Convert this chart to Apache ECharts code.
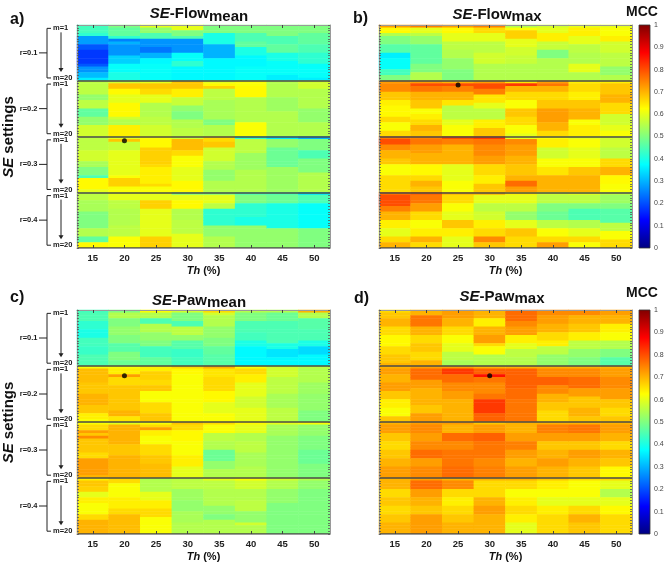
<!DOCTYPE html>
<html>
<head>
<meta charset="utf-8">
<script src="https://cdn.jsdelivr.net/npm/echarts@6/dist/echarts.min.js"></script>
<style>
html, body { margin: 0; padding: 0; background: #fff; }
#chart { width: 669px; height: 566px; }
</style>
</head>
<body>
<div id="chart"></div>
<script>
// Th (%) columns
const thresholds = ['15', '20', '25', '30', '35', '40', '45', '50'];
// SE settings: 4 values of r, each with m = 1..20
const rLevels = ['r=0.1', 'r=0.2', 'r=0.3', 'r=0.4'];
const mPerR = 20;
const colorTicks = ['0', '0.1', '0.2', '0.3', '0.4', '0.5', '0.6', '0.7', '0.8', '0.9', '1'];

// MCC x100, one array per Th column, 80 rows (r=0.1 m=1..20, r=0.2 m=1..20, ...)
const flowMeanMcc = [
    [44,44,44,42,28,28,28,21,21,18,18,18,18,18,21,27,27,31,31,36, 56,56,56,56,56,52,52,56,56,56,47,47,47,52,52,52,58,58,58,58, 56,56,56,56,56,58,58,58,58,54,54,50,50,50,45,63,63,63,63,60, 56,56,56,54,54,54,54,50,50,50,50,50,50,55,55,55,47,47,63,63],
    [50,47,47,47,42,25,30,27,27,27,27,33,33,33,38,38,38,40,40,40, 58,68,68,63,63,60,60,60,63,63,63,63,63,58,55,55,64,64,64,64, 60,68,57,57,57,60,60,60,60,60,60,60,60,60,62,67,67,67,62,62, 60,60,60,56,56,56,55,55,55,55,55,55,56,56,56,56,62,62,62,62],
    [60,52,52,45,45,27,27,27,24,24,30,30,37,37,38,38,38,38,38,38, 60,68,68,66,66,60,60,60,55,55,55,55,55,56,56,56,58,58,58,58, 62,63,63,63,67,67,67,67,67,67,66,64,64,64,64,64,64,66,62,62, 60,60,60,67,67,67,60,60,60,60,60,60,60,60,60,60,67,67,67,67],
    [60,60,50,50,45,27,27,27,27,27,38,38,38,42,42,37,37,37,37,37, 68,68,68,64,64,64,57,57,57,52,52,50,50,50,55,55,55,56,56,56, 58,69,69,69,69,66,66,62,62,62,62,60,60,60,60,60,63,63,63,63, 50,60,60,63,63,63,55,55,55,55,56,56,56,56,56,60,60,60,60,60],
    [50,50,50,40,40,40,40,30,30,30,30,30,37,37,37,37,37,37,37,37, 60,63,67,56,56,56,56,54,54,54,54,54,54,54,50,50,55,55,55,55, 66,66,68,68,58,58,58,58,58,55,55,55,52,52,52,52,55,55,55,55, 50,60,60,60,56,56,42,42,42,42,42,42,52,52,52,52,55,55,55,55],
    [50,50,50,45,45,45,47,47,40,40,40,37,37,37,37,38,38,38,38,38, 62,62,63,63,63,63,55,55,55,55,55,55,55,55,55,62,62,62,62,62, 42,56,56,56,56,56,53,53,53,53,53,53,55,55,55,55,55,55,55,55, 45,50,50,50,42,42,42,42,42,40,40,40,52,52,52,52,52,52,52,52],
    [50,50,50,50,45,45,45,47,47,47,40,40,40,38,38,38,38,38,36,36, 55,55,55,55,55,55,53,53,53,53,53,55,55,55,55,55,55,55,55,55, 35,52,52,52,48,48,48,48,48,48,48,53,53,53,53,53,53,53,53,53, 45,48,48,48,40,40,40,40,40,40,40,40,40,52,52,52,52,52,52,52],
    [50,50,50,47,47,47,47,45,45,45,42,42,42,42,38,38,38,38,38,36, 58,58,58,55,55,55,55,55,55,55,52,52,52,52,52,55,55,55,55,55, 30,50,50,50,50,45,45,45,50,50,50,50,50,55,55,55,55,55,55,55, 35,45,45,45,38,38,38,38,38,38,38,38,38,50,50,50,50,50,50,50]
];

const flowMaxMcc = [
    [72,63,63,55,50,50,50,46,46,46,36,36,38,38,38,38,44,44,50,50, 72,74,74,74,68,68,68,64,64,63,63,63,63,66,66,62,62,62,66,66, 76,80,80,74,74,70,70,70,68,68,62,62,62,62,66,66,66,66,66,66, 76,80,80,80,80,75,75,70,70,70,64,64,64,60,60,60,66,66,70,70],
    [75,60,60,56,52,52,52,47,47,47,47,47,47,47,50,50,50,55,55,55, 72,80,76,76,70,70,70,68,68,68,62,62,64,64,66,66,70,70,68,68, 75,76,76,72,72,72,70,70,70,70,63,63,63,63,66,66,70,70,68,68, 78,76,76,76,72,72,72,66,66,66,62,62,62,64,64,64,70,70,66,66],
    [72,63,63,60,60,60,56,56,56,55,55,55,52,52,52,52,50,50,50,50, 70,80,75,75,70,70,70,65,65,56,56,56,56,56,60,60,62,62,62,62, 80,75,75,70,70,70,70,70,70,70,60,60,60,60,60,60,62,62,62,62, 70,66,66,66,62,62,62,60,60,60,68,68,68,64,64,64,60,60,60,60],
    [75,66,66,60,60,60,56,56,56,56,58,58,58,58,55,55,55,55,55,55, 72,80,80,75,75,65,65,65,60,60,56,56,56,56,64,64,64,68,68,68, 82,76,76,74,74,74,74,72,72,72,66,66,66,66,64,64,64,68,68,68, 70,60,60,60,56,56,56,58,58,58,64,64,64,66,66,66,74,74,68,68],
    [55,62,67,67,67,60,60,60,58,58,58,57,57,57,55,55,55,55,55,55, 65,82,70,70,66,66,66,62,62,62,68,68,68,66,66,66,62,62,62,60, 60,74,74,72,72,72,72,70,70,70,68,68,68,68,70,70,77,77,72,72, 64,60,60,60,56,56,56,52,52,52,60,60,60,68,68,68,66,66,66,66],
    [58,60,60,64,64,64,57,57,57,50,50,50,55,55,55,55,55,55,55,55, 72,76,70,70,66,66,66,68,68,68,72,72,72,72,72,70,70,70,66,66, 62,64,64,64,58,58,58,58,62,62,62,65,65,65,70,70,70,70,70,70, 58,56,56,56,50,50,50,48,48,48,56,56,56,62,62,62,66,66,72,72],
    [60,64,64,64,60,60,60,56,56,56,55,55,55,55,60,60,60,55,55,55, 64,66,66,66,64,64,64,68,68,68,70,70,70,70,62,62,64,64,64,64, 60,62,62,62,60,60,60,60,62,62,62,68,68,68,70,70,70,70,70,70, 60,56,56,56,50,50,45,45,45,45,55,55,55,60,60,60,66,66,62,62],
    [60,62,62,62,64,64,58,58,58,58,56,56,56,56,56,52,52,52,55,55, 64,68,68,68,68,70,70,70,66,66,66,66,58,58,58,58,60,60,62,62, 58,58,58,58,56,56,56,56,66,66,66,70,70,70,63,63,63,62,62,62, 56,53,53,53,50,50,46,46,46,46,46,56,56,56,62,62,62,66,66,66]
];

const pawMeanMcc = [
    [44,45,45,45,42,42,42,40,40,40,44,44,44,43,43,43,45,45,45,45, 62,69,69,69,69,69,68,68,68,68,70,70,70,70,68,68,68,64,64,62, 62,66,66,72,68,74,68,68,68,68,68,66,66,72,72,72,72,72,72,70, 64,68,68,67,67,60,60,64,64,62,62,62,62,66,66,70,70,70,70,70],
    [50,55,55,50,50,50,52,52,52,50,50,50,46,46,46,50,50,50,48,48, 62,64,64,72,66,66,66,68,68,68,68,68,68,68,68,68,70,70,65,65, 60,70,70,70,70,70,70,70,68,68,68,68,70,70,70,70,70,70,70,70, 66,66,62,62,62,62,62,64,64,64,64,66,66,69,69,69,69,69,69,69],
    [62,55,55,45,45,55,55,55,52,52,52,50,50,44,44,44,44,47,47,47, 64,64,67,67,67,66,66,68,68,62,62,62,62,66,66,66,66,68,68,68, 62,66,72,64,64,62,62,62,66,66,66,66,68,68,68,69,69,69,69,69, 55,55,55,55,55,60,60,60,64,64,64,66,66,66,62,62,62,62,62,62],
    [58,50,50,50,45,45,56,56,56,52,52,46,46,46,43,43,43,44,44,44, 66,63,63,62,62,62,62,62,62,62,62,62,62,62,62,62,62,62,62,62, 68,66,66,63,63,63,63,62,62,62,62,62,64,64,64,64,60,60,60,60, 56,56,56,56,53,53,53,53,52,52,52,52,54,54,54,54,55,55,55,55],
    [66,58,55,55,55,55,52,52,52,52,50,50,50,47,47,47,46,46,46,46, 70,65,65,65,66,66,66,66,66,63,63,63,63,60,60,60,60,62,62,62, 66,62,62,62,56,56,56,55,55,55,48,48,48,48,52,52,52,55,55,55, 60,56,56,56,55,55,55,55,55,55,52,52,52,50,50,55,55,55,55,55],
    [55,50,50,50,45,45,45,45,44,44,44,40,40,37,37,37,37,37,37,37, 62,66,66,64,64,64,60,60,60,60,60,58,58,58,58,60,60,60,60,60, 63,60,60,60,55,55,55,56,56,56,56,54,54,54,54,54,55,55,55,55, 62,58,58,58,55,55,55,55,56,56,56,56,52,52,52,52,58,55,55,55],
    [55,48,48,48,45,45,45,45,45,45,45,45,40,40,35,35,35,37,37,37, 58,58,58,58,56,56,56,56,56,56,54,54,54,54,54,56,56,56,56,56, 60,54,54,54,54,52,52,52,52,52,52,52,52,52,52,52,52,52,52,52, 58,55,55,55,52,52,52,52,52,50,50,50,50,50,50,50,50,50,50,50],
    [70,55,55,46,46,46,46,45,45,45,45,40,40,34,34,34,37,37,37,37, 56,55,55,55,55,55,53,53,53,53,52,52,52,52,52,52,50,50,50,50, 62,52,52,52,52,50,50,50,50,50,48,48,48,48,48,50,50,50,50,50, 55,52,52,52,50,50,50,50,50,50,50,50,50,50,50,50,50,50,50,50]
];

const pawMaxMcc = [
    [66,68,68,70,70,70,66,66,66,63,63,63,63,66,66,66,68,68,68,70, 70,72,72,70,70,70,72,72,72,68,68,68,64,64,64,62,62,62,68,68, 70,72,72,72,68,68,68,66,66,66,68,68,68,70,70,70,72,72,72,72, 70,70,70,70,66,66,66,68,68,68,66,66,66,68,68,68,70,70,70,70],
    [70,70,76,76,76,76,70,70,70,66,66,66,68,68,68,66,66,66,70,70, 72,77,77,77,77,72,72,72,70,70,70,70,70,70,68,68,68,72,72,72, 72,74,74,74,72,72,72,74,74,74,77,77,77,72,72,72,74,74,74,74, 72,77,77,77,72,72,72,70,70,70,68,68,68,72,72,72,72,72,72,72],
    [72,72,72,70,70,70,66,66,66,62,62,62,60,60,60,56,56,56,54,54, 72,82,82,77,77,77,74,74,74,72,72,72,70,70,70,70,70,70,70,70, 72,70,70,70,77,77,77,74,74,74,76,76,76,76,76,76,77,77,77,77, 70,74,74,74,66,66,66,64,64,64,66,66,66,68,68,68,70,70,70,70],
    [70,70,70,64,64,64,70,70,70,72,72,72,66,62,62,62,55,55,55,55, 70,78,78,86,76,76,74,74,74,74,76,76,82,82,82,82,82,78,78,78, 68,72,72,72,78,78,78,76,76,76,76,76,76,74,74,74,75,75,75,75, 70,66,66,66,66,66,66,70,70,70,72,72,72,70,70,70,70,70,70,70],
    [77,77,77,77,74,74,72,72,72,64,64,64,60,60,56,56,56,55,55,55, 70,78,78,78,78,78,78,78,77,77,77,77,76,76,76,76,76,76,76,76, 70,70,70,70,72,72,72,75,75,75,72,72,72,70,70,70,72,72,72,72, 70,66,66,66,62,62,62,64,64,64,66,66,66,64,64,64,60,60,60,60],
    [74,74,72,72,72,70,70,70,66,66,66,64,64,56,56,56,52,52,52,52, 70,74,74,74,78,78,78,74,74,74,70,70,70,68,68,68,66,66,66,66, 70,75,75,75,72,72,72,68,68,68,70,70,70,72,72,72,70,70,70,70, 68,64,64,64,62,62,62,60,60,60,64,64,64,66,66,66,66,66,66,66],
    [74,74,70,70,70,68,68,68,64,64,64,56,56,56,52,52,52,50,50,50, 70,74,74,74,77,77,77,77,72,72,72,68,68,68,68,70,70,70,68,68, 70,76,76,76,72,72,72,68,68,68,72,72,72,70,70,70,68,68,68,68, 66,62,62,62,62,62,62,60,60,60,66,66,66,70,70,70,68,68,68,68],
    [72,72,70,70,70,64,64,64,62,62,62,55,55,55,50,50,50,46,46,46, 70,72,72,72,74,74,74,74,72,72,72,72,68,68,68,66,66,66,68,68, 70,72,72,72,70,70,70,66,66,66,70,70,70,68,68,68,63,63,63,63, 66,60,60,60,55,55,55,60,60,60,63,63,63,66,66,66,66,66,66,66]
];

// best cell of each panel (black dot): Th column and SE-setting row
const bestTh = ['20', '25', '20', '30'];
const bestRow = [41, 21, 23, 23];

const FONT = '"Liberation Sans", Arial, sans-serif';
const jet = ['#000080', '#0000ff', '#0080ff', '#00ffff', '#80ff80', '#ffff00', '#ff8000', '#ff0000', '#800000'];

const rowNames = [];
rLevels.forEach(r => {
    for (let m = 1; m <= mPerR; m++) rowNames.push(r + ' m=' + m);
});

const PW = 253;
const panels = [
    { letter: 'a)', name: '-Flow', sub: 'mean', mcc: flowMeanMcc, left: 77, top: 25, height: 223, titleX: 199, titleY: 15.5, letterX: 10, letterY: 19.5, yLabels: true },
    { letter: 'b)', name: '-Flow', sub: 'max', mcc: flowMaxMcc, left: 379, top: 25, height: 223, titleX: 497, titleY: 15.8, letterX: 353, letterY: 19, yLabels: false },
    { letter: 'c)', name: '-Paw', sub: 'mean', mcc: pawMeanMcc, left: 77, top: 310, height: 224, titleX: 199, titleY: 302, letterX: 10, letterY: 298, yLabels: true },
    { letter: 'd)', name: '-Paw', sub: 'max', mcc: pawMaxMcc, left: 379, top: 310, height: 224, titleX: 502, titleY: 298, letterX: 354, letterY: 299, yLabels: false }
];
const colorBars = [
    { left: 639, top: 25, height: 223, labelY: 12.5 },
    { left: 639, top: 310, height: 224, labelY: 293.3 }
];

const frame = { show: true, lineStyle: { color: '#9a9a9a', width: 1 } };
const grids = [];
const xAxes = [];
const yAxes = [];
const series = [];
const graphics = [];

panels.forEach((p, i) => {
    grids.push({ left: p.left, top: p.top, width: PW, height: p.height });

    const xTick = { show: true, inside: true, alignWithLabel: true, length: 3, lineStyle: { color: '#444' } };
    xAxes.push({
        gridIndex: i, type: 'category', data: thresholds, position: 'bottom', z: 4,
        axisLine: frame, axisTick: xTick,
        axisLabel: { fontFamily: FONT, fontWeight: 'bold', fontSize: 9.5, color: '#222', margin: 5 },
        name: '{i|Th}{b| (%)}', nameLocation: 'middle', nameGap: 17,
        nameTextStyle: {
            rich: {
                i: { fontFamily: FONT, fontWeight: 'bold', fontStyle: 'italic', fontSize: 11, color: '#111' },
                b: { fontFamily: FONT, fontWeight: 'bold', fontSize: 11, color: '#111' }
            }
        }
    });
    xAxes.push({
        gridIndex: i, type: 'category', data: thresholds, position: 'top', z: 4,
        axisLine: frame, axisTick: xTick, axisLabel: { show: false }
    });

    const yTick = { show: true, inside: true, interval: 0, length: 2, lineStyle: { color: '#555', width: 0.8 } };
    yAxes.push({
        gridIndex: i, type: 'category', data: rowNames, inverse: true, position: 'left', z: 4,
        axisLine: frame, axisTick: yTick, axisLabel: { show: false }
    });
    yAxes.push({
        gridIndex: i, type: 'category', data: rowNames, inverse: true, position: 'right', z: 4,
        axisLine: frame, axisTick: yTick, axisLabel: { show: false },
        splitLine: {
            show: true,
            interval: idx => idx > 0 && idx % mPerR === 0,
            lineStyle: { color: '#4a4a4a', width: 1.5 }
        }
    });

    const cells = [];
    p.mcc.forEach((col, c) => {
        col.forEach((v, r) => cells.push([c, r, v / 100]));
    });
    series.push({
        type: 'heatmap', xAxisIndex: 2 * i, yAxisIndex: 2 * i,
        data: cells, progressive: 0, emphasis: { disabled: true }
    });

    // title with subscript
    graphics.push({
        type: 'text', x: p.titleX, y: p.titleY,
        style: {
            text: '{i|SE}{b|' + p.name + '}{s|' + p.sub + '}',
            align: 'center', textAlign: 'center', verticalAlign: 'middle', textVerticalAlign: 'middle',
            rich: {
                i: { fontFamily: FONT, fontSize: 15, fontWeight: 'bold', fontStyle: 'italic', fill: '#111', lineHeight: 15, verticalAlign: 'top' },
                b: { fontFamily: FONT, fontSize: 15, fontWeight: 'bold', fill: '#111', lineHeight: 15, verticalAlign: 'top' },
                s: { fontFamily: FONT, fontSize: 15, fontWeight: 'bold', fill: '#111', lineHeight: 17.5, verticalAlign: 'bottom' }
            }
        }
    });
    graphics.push({
        type: 'text', x: p.letterX, y: p.letterY,
        style: {
            text: p.letter, fontFamily: FONT, fontSize: 16, fontWeight: 'bold', fill: '#111',
            verticalAlign: 'middle', textVerticalAlign: 'middle'
        }
    });

    if (p.yLabels) {
        const rowH = p.height / rowNames.length;
        graphics.push({
            type: 'text', x: 9, y: p.top + p.height / 2 + 0.5, rotation: Math.PI / 2,
            style: {
                text: '{i|SE}{b| settings}',
                align: 'center', textAlign: 'center', verticalAlign: 'middle', textVerticalAlign: 'middle',
                rich: {
                    i: { fontFamily: FONT, fontSize: 15, fontWeight: 'bold', fontStyle: 'italic', fill: '#111' },
                    b: { fontFamily: FONT, fontSize: 15, fontWeight: 'bold', fill: '#111' }
                }
            }
        });
        rLevels.forEach((r, b) => {
            const bt = p.top + b * mPerR * rowH;
            const yTop = bt + 1.2 * rowH;
            const yBot = bt + 19.0 * rowH;
            const yMid = bt + 10 * rowH;
            const lineStyle = { stroke: '#222', lineWidth: 1 };
            const small = { fontFamily: FONT, fontSize: 7.5, fontWeight: 'bold', fill: '#1a1a1a', verticalAlign: 'middle', textVerticalAlign: 'middle' };
            graphics.push({ type: 'text', x: 37.5, y: yMid, style: Object.assign({ text: r, align: 'right', textAlign: 'right' }, small) });
            graphics.push({ type: 'line', shape: { x1: 39, y1: yMid, x2: 47, y2: yMid }, style: lineStyle });
            graphics.push({ type: 'line', shape: { x1: 47, y1: yTop, x2: 47, y2: yBot }, style: lineStyle });
            graphics.push({ type: 'line', shape: { x1: 47, y1: yTop, x2: 51, y2: yTop }, style: lineStyle });
            graphics.push({ type: 'line', shape: { x1: 47, y1: yBot, x2: 51, y2: yBot }, style: lineStyle });
            graphics.push({ type: 'text', x: 53, y: yTop, style: Object.assign({ text: 'm=1' }, small) });
            graphics.push({ type: 'text', x: 53, y: yBot, style: Object.assign({ text: 'm=' + mPerR }, small) });
            graphics.push({ type: 'line', shape: { x1: 61, y1: yTop + 4, x2: 61, y2: yBot - 9 }, style: lineStyle });
            graphics.push({ type: 'polygon', shape: { points: [[58.5, yBot - 10], [63.5, yBot - 10], [61, yBot - 6]] }, style: { fill: '#222' } });
        });
    }
});

panels.forEach((p, i) => {
    series.push({
        type: 'scatter', xAxisIndex: 2 * i, yAxisIndex: 2 * i, z: 6,
        symbolSize: 5, itemStyle: { color: '#000' },
        data: [[bestTh[i], bestRow[i]]]
    });
});

colorBars.forEach((cb, k) => {
    const gi = panels.length + k;
    grids.push({ left: cb.left, top: cb.top, width: 11, height: cb.height });
    xAxes.push({ gridIndex: gi, type: 'value', show: false, min: 0, max: 1 });
    yAxes.push({
        gridIndex: gi, type: 'value', min: 0, max: 1, interval: 0.1, position: 'right',
        axisLine: { show: false }, axisTick: { show: false }, splitLine: { show: false },
        axisLabel: {
            fontFamily: FONT, fontSize: 7, color: '#444', margin: 4,
            formatter: v => colorTicks[Math.round(v * 10)]
        }
    });
    graphics.push({
        type: 'rect', z: 10,
        shape: { x: cb.left, y: cb.top, width: 11, height: cb.height },
        style: {
            fill: new echarts.graphic.LinearGradient(0, 1, 0, 0,
                jet.map((c, j) => ({ offset: j / (jet.length - 1), color: c }))),
            stroke: '#333', lineWidth: 0.8
        }
    });
    graphics.push({
        type: 'text', x: 642, y: cb.labelY,
        style: {
            text: 'MCC', fontFamily: FONT, fontSize: 14, fontWeight: 'bold', fill: '#111',
            align: 'center', textAlign: 'center', verticalAlign: 'middle', textVerticalAlign: 'middle'
        }
    });
});

const chart = echarts.init(document.getElementById('chart'), null, { renderer: 'canvas' });
chart.setOption({
    animation: false,
    backgroundColor: '#fff',
    grid: grids,
    xAxis: xAxes,
    yAxis: yAxes,
    visualMap: {
        type: 'continuous', show: false, min: 0, max: 1,
        seriesIndex: [0, 1, 2, 3],
        inRange: { color: jet }
    },
    series: series,
    graphic: { elements: graphics }
});
</script>
</body>
</html>
